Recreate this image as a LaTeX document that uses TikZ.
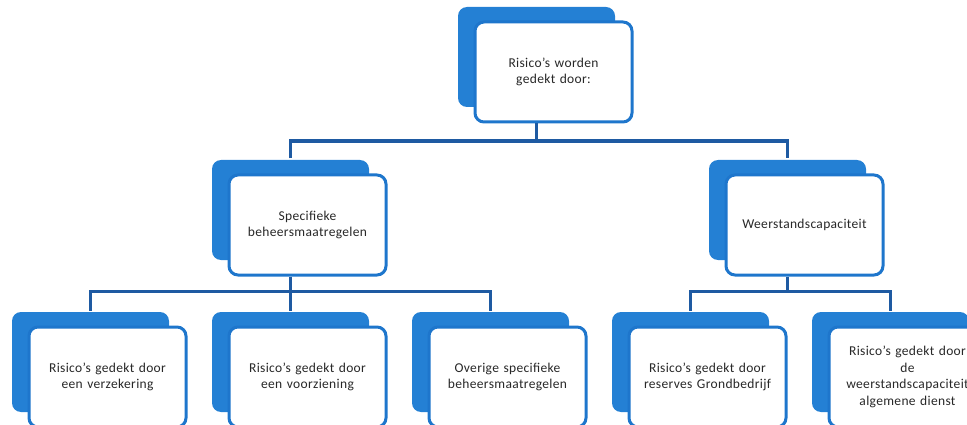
\documentclass[tikz,border=0pt]{standalone}
\usepackage{fontspec}
\setmainfont{Carlito}
\usepackage{tikz}
\usetikzlibrary{positioning,shadows}

\definecolor{backblue}{RGB}{36,128,212}
\definecolor{edgeblue}{RGB}{30,118,204}
\definecolor{lineblue}{RGB}{30,90,162}
\definecolor{textgray}{RGB}{40,40,40}

\begin{document}
\begin{tikzpicture}[x=1pt,y=1pt]
    \tikzset{
        n/.style        =   { rectangle
                            , rounded corners=9pt
                            , fill=white
                            , draw=edgeblue
                            , line width=3pt
                            , minimum width=157pt
                            , minimum height=100pt
                            , text width=150pt
                            , align=center
                            , text=textgray
                            , font=\fontsize{13.5}{16.5}\selectfont\addfontfeature{LetterSpace=2.5}
                            , general shadow={shadow xshift=-17pt, shadow yshift=15pt, fill=backblue}
                            }
        , line/.style   =   { draw=lineblue
                            , line width=3.2pt
                            }
    }
    \useasboundingbox (0,0) rectangle (967,-425);

    \node(4)[n] at (107.5,-377) {Risico's gedekt door\\een verzekering};
    \node(5)[n,right=40pt of 4] {Risico's gedekt door\\een voorziening};
    \node(6)[n,right=40pt of 5] {Overige specifieke\\beheersmaatregelen};
    \node(7)[n,right=40pt of 6] {Risico's gedekt door\\reserves Grondbedrijf};
    \node(8)[n,right=40pt of 7] {Risico's gedekt door\\{de}\\weerstandscapaciteit\\algemene dienst};
    \node(2)[n,above=49pt of 5] {Specifieke\\beheersmaatregelen};
    \node(3)[n,right=337pt of 2] {Weerstandscapaciteit};
    \node(1)[n,above=50pt of 2,xshift=246pt] {Risico's worden\\gedekt door:};

    % top level
    \draw[line] ([xshift=-17pt]1.south) -- ++(0,-17.5) coordinate (b1);
    \draw[line] ([xshift=-17pt,yshift=15pt]2.north) |- (b1) -| ([xshift=-17pt,yshift=15pt]3.north);

    % specifieke beheersmaatregelen
    \draw[line] ([xshift=-17pt]2.south) -- ++(0,-15) coordinate (b2);
    \draw[line] ([xshift=-17pt,yshift=15pt]4.north) |- (b2) -| ([xshift=-17pt,yshift=15pt]6.north);
    \draw[line] (b2) -- ([xshift=-17pt,yshift=15pt]5.north);

    % weerstandscapaciteit
    \draw[line] ([xshift=-17pt]3.south) -- ++(0,-15) coordinate (b3);
    \draw[line] ([xshift=-17pt,yshift=15pt]7.north) |- (b3) -| ([xshift=-17pt,yshift=15pt]8.north);
\end{tikzpicture}
\end{document}
